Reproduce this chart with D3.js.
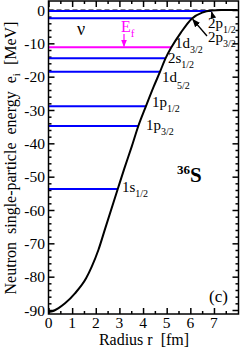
<!DOCTYPE html>
<html>
<head>
<meta charset="utf-8">
<script src="https://cdn.jsdelivr.net/npm/d3@7"></script>
<style>
  body { margin: 0; background: #fff; }
  text { white-space: pre; }
</style>
</head>
<body>
<div id="graph"></div>
<script>
// potential curve (radius fm, energy MeV)
const potR = [0, 0.2, 0.41, 0.7, 1.12, 1.59, 1.83, 2.11, 2.4, 2.93, 3.21, 3.52, 3.8, 4.12, 4.45, 4.72, 4.95, 5.2, 5.6, 6.06, 6.5, 6.9, 7.3, 8.0];
const potE = [-90.6, -90.3, -89.5, -88, -85, -80.5, -77, -72, -65.5, -53.7, -47.5, -41, -34.8, -28.9, -23, -18.5, -14.5, -11.2, -6.8, -2.6, -0.8, -0.15, 0, 0];

// single-particle levels
const levelE = [-0.3, -2.5, -11.2, -14.5, -18.5, -28.9, -34.8, -53.7];
const levelEndR = [6.9, 6.06, 5.2, 4.95, 4.72, 4.12, 3.8, 2.93];
const levelName = ['2p', '2p', '1d', '2s', '1d', '1p', '1p', '1s'];
const levelSub = ['1/2', '3/2', '3/2', '1/2', '5/2', '1/2', '3/2', '1/2'];
const fermiE = -11.2;

const xTicks = [0, 1, 2, 3, 4, 5, 6, 7];
const yTicks = [0, -10, -20, -30, -40, -50, -60, -70, -80, -90];

const w = 240, h = 349;
const svg = d3.select('#graph').append('svg').attr('width', w).attr('height', h)
  .attr('font-family', "'Liberation Serif', 'Times New Roman', 'DejaVu Serif', serif");

const x = d3.scaleLinear().domain([0, 8]).range([48.5, 237.6]);
const y = d3.scaleLinear().domain([-91.2, 2.7]).range([314, 1]);
const x0 = 48.5, x1 = 238.5, y0 = 314, y1 = 1;

// ticks (inside, all four sides)
const ax = svg.append('g');
const xMinor = d3.range(0.5, 8, 1), yMinor = d3.range(-90, 2, 2).filter(v => v % 10 !== 0);
ax.append('g').attr('transform', `translate(0,${y0})`)
  .call(d3.axisBottom(x).tickValues(xTicks).tickSize(-6).tickFormat(''));
ax.append('g').attr('transform', `translate(0,${y0})`)
  .call(d3.axisBottom(x).tickValues(xMinor).tickSize(-3).tickFormat(''));
ax.append('g').attr('transform', `translate(0,${y1})`)
  .call(d3.axisTop(x).tickValues(xTicks).tickSize(-6).tickFormat(''));
ax.append('g').attr('transform', `translate(0,${y1})`)
  .call(d3.axisTop(x).tickValues(xMinor).tickSize(-3).tickFormat(''));
ax.append('g').attr('transform', `translate(${x0},0)`)
  .call(d3.axisLeft(y).tickValues(yTicks).tickSize(-6).tickFormat(''));
ax.append('g').attr('transform', `translate(${x0},0)`)
  .call(d3.axisLeft(y).tickValues(yMinor).tickSize(-3).tickFormat(''));
ax.append('g').attr('transform', `translate(${x1},0)`)
  .call(d3.axisRight(y).tickValues(yTicks).tickSize(-6).tickFormat(''));
ax.append('g').attr('transform', `translate(${x1},0)`)
  .call(d3.axisRight(y).tickValues(yMinor).tickSize(-3).tickFormat(''));
ax.selectAll('.domain').remove();
ax.selectAll('.tick line').attr('stroke', '#000').attr('stroke-width', 1.5);

// tick labels
svg.selectAll('.xl').data(xTicks).enter().append('text')
  .attr('x', d => x(d)).attr('y', 328).attr('text-anchor', 'middle')
  .attr('font-size', 15.5).text(d => d);
svg.selectAll('.yl').data(yTicks).enter().append('text')
  .attr('x', 45).attr('y', d => y(d) + 5.5).attr('text-anchor', 'end')
  .attr('font-size', 15.5).text(d => d);

// axis titles
svg.append('text').attr('x', 144).attr('y', 345).attr('text-anchor', 'middle')
  .attr('font-size', 16).text('Radius r  [fm]');
const yt = svg.append('text').attr('transform', 'translate(16,158) rotate(-90)')
  .attr('text-anchor', 'middle').attr('font-size', 16);
yt.append('tspan').text('Neutron  single-particle  energy  e');
yt.append('tspan').attr('font-size', 11).attr('dy', 4).text('i');
yt.append('tspan').attr('dy', -4).text('  [MeV]');

// zero line
svg.append('line').attr('x1', x0).attr('x2', x1).attr('y1', y(0)).attr('y2', y(0))
  .attr('stroke', '#000').attr('stroke-width', 1.2).attr('stroke-dasharray', '5,3');

// levels
svg.selectAll('.lev').data(levelE).enter().append('line')
  .attr('x1', x0).attr('x2', (d, i) => x(levelEndR[i]))
  .attr('y1', d => y(d)).attr('y2', d => y(d))
  .attr('stroke', d => d === fermiE ? '#ff00ff' : '#0000ff').attr('stroke-width', 2);

// potential
svg.append('path').datum(potR.map((r, i) => [r, potE[i]]))
  .attr('fill', 'none').attr('stroke', '#000').attr('stroke-width', 2)
  .attr('d', d3.line().x(d => x(d[0])).y(d => y(d[1])).curve(d3.curveMonotoneX));

// level labels (pixel anchors)
const labelPos = [[208, 28, 5], [208, 42, 5], [175, 48, 5], [168, 63, 5], [162, 82, 7], [152, 107, 5], [146, 130, 5], [122, 192, 5]];
levelName.forEach((n, i) => {
  const t = svg.append('text').attr('x', labelPos[i][0]).attr('y', labelPos[i][1]).attr('font-size', 15);
  t.append('tspan').text(n);
  t.append('tspan').attr('font-size', 10).attr('dy', labelPos[i][2]).text(levelSub[i]);
});

// arrows to 2p levels
const defs = svg.append('defs');
defs.append('marker').attr('id', 'ah').attr('viewBox', '0 0 10 10').attr('refX', 9).attr('refY', 5)
  .attr('markerWidth', 6).attr('markerHeight', 6).attr('orient', 'auto')
  .append('path').attr('d', 'M0,1 L10,5 L0,9 z').attr('fill', '#000');
defs.append('marker').attr('id', 'ahm').attr('viewBox', '0 0 10 10').attr('refX', 9).attr('refY', 5)
  .attr('markerWidth', 6).attr('markerHeight', 6).attr('orient', 'auto')
  .append('path').attr('d', 'M0,1 L10,5 L0,9 z').attr('fill', '#ff00ff');
svg.append('line').attr('x1', 213).attr('y1', 17).attr('x2', x(levelEndR[0])).attr('y2', y(levelE[0]) + 1)
  .attr('stroke', '#000').attr('stroke-width', 1.2).attr('marker-end', 'url(#ah)');
svg.append('line').attr('x1', 207).attr('y1', 36).attr('x2', x(levelEndR[1]) + 1).attr('y2', y(levelE[1]) + 1)
  .attr('stroke', '#000').attr('stroke-width', 1.4).attr('marker-end', 'url(#ah)');

// Fermi level
const ef = svg.append('text').attr('x', 121).attr('y', 32).attr('font-size', 16).attr('fill', '#ff00ff');
ef.append('tspan').text('E');
ef.append('tspan').attr('font-size', 11).attr('dy', 5).text('f');
svg.append('line').attr('x1', 124).attr('x2', 124).attr('y1', 34).attr('y2', y(fermiE) - 1)
  .attr('stroke', '#ff00ff').attr('stroke-width', 1.2).attr('marker-end', 'url(#ahm)');

// annotations
svg.append('text').attr('x', 77).attr('y', 35).attr('font-size', 18).text('ν');
const nuc = svg.append('text').attr('x', 177).attr('y', 182).attr('font-weight', 'bold').attr('font-size', 21);
nuc.append('tspan').attr('font-size', 13).attr('dy', -8).text('36');
nuc.append('tspan').attr('dy', 8).text('S');
svg.append('text').attr('x', 209).attr('y', 302).attr('font-size', 17).text('(c)');

// frame
svg.append('rect').attr('x', x0).attr('y', y1).attr('width', x1 - x0).attr('height', y0 - y1)
  .attr('fill', 'none').attr('stroke', '#000').attr('stroke-width', 1.5);
</script>
</body>
</html>
